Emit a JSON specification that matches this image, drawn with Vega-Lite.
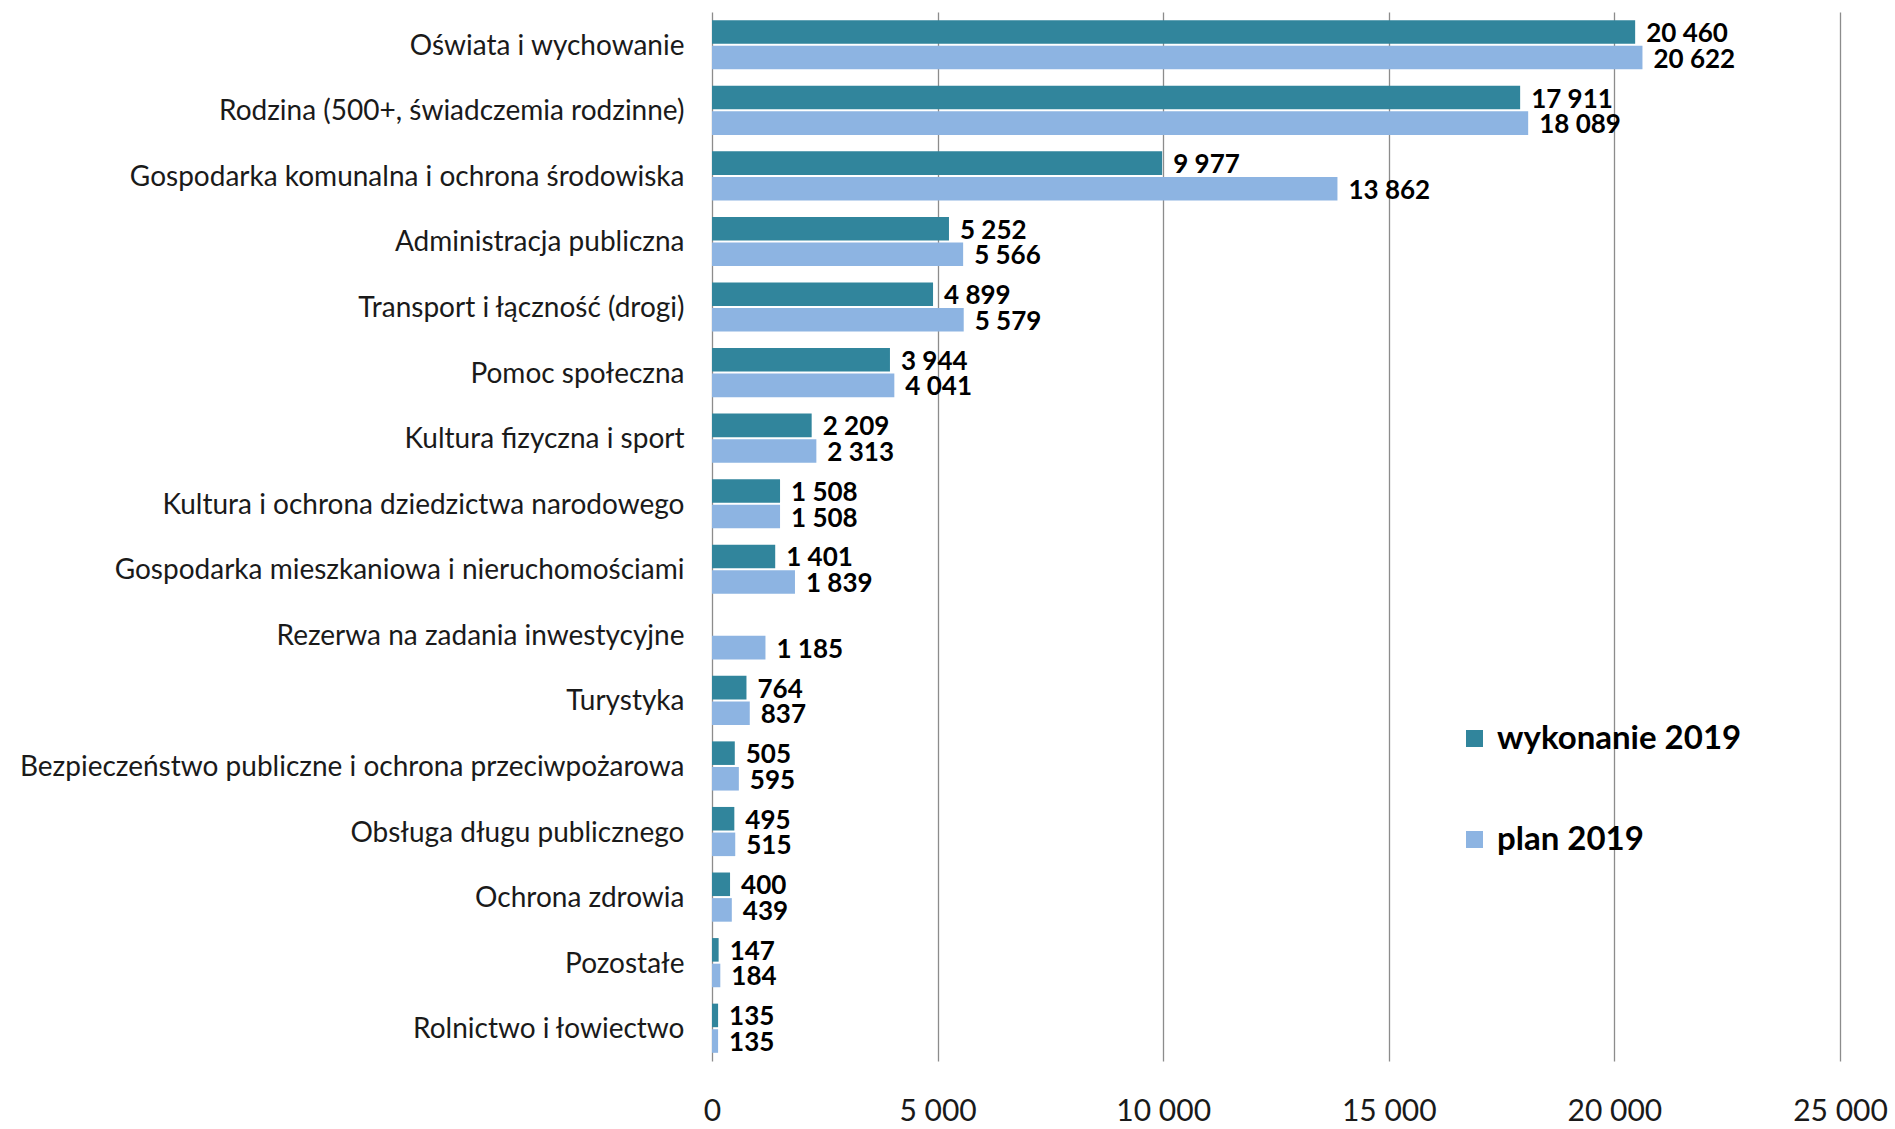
{
  "$schema": "https://vega.github.io/schema/vega-lite/v6.json",
  "width": 1128,
  "height": 1049,
  "autosize": {"type": "none"},
  "padding": {"left": 712, "top": 12, "right": 55, "bottom": 68},
  "background": "white",
  "config": {
    "view": {"stroke": null},
    "locale": {"number": {"decimal": ",", "thousands": " ", "grouping": [3], "currency": ["", " zł"]}},
    "font": "Lato"
  },
  "data": {
    "values": [
      {"kategoria": "Oświata i wychowanie", "seria": "wykonanie 2019", "wartosc": 20460},
      {"kategoria": "Oświata i wychowanie", "seria": "plan 2019", "wartosc": 20622},
      {"kategoria": "Rodzina (500+, świadczemia rodzinne)", "seria": "wykonanie 2019", "wartosc": 17911},
      {"kategoria": "Rodzina (500+, świadczemia rodzinne)", "seria": "plan 2019", "wartosc": 18089},
      {"kategoria": "Gospodarka komunalna i ochrona środowiska ", "seria": "wykonanie 2019", "wartosc": 9977},
      {"kategoria": "Gospodarka komunalna i ochrona środowiska ", "seria": "plan 2019", "wartosc": 13862},
      {"kategoria": "Administracja publiczna", "seria": "wykonanie 2019", "wartosc": 5252},
      {"kategoria": "Administracja publiczna", "seria": "plan 2019", "wartosc": 5566},
      {"kategoria": "Transport i łączność (drogi)", "seria": "wykonanie 2019", "wartosc": 4899},
      {"kategoria": "Transport i łączność (drogi)", "seria": "plan 2019", "wartosc": 5579},
      {"kategoria": "Pomoc społeczna", "seria": "wykonanie 2019", "wartosc": 3944},
      {"kategoria": "Pomoc społeczna", "seria": "plan 2019", "wartosc": 4041},
      {"kategoria": "Kultura fizyczna i sport", "seria": "wykonanie 2019", "wartosc": 2209},
      {"kategoria": "Kultura fizyczna i sport", "seria": "plan 2019", "wartosc": 2313},
      {"kategoria": "Kultura i ochrona dziedzictwa narodowego", "seria": "wykonanie 2019", "wartosc": 1508},
      {"kategoria": "Kultura i ochrona dziedzictwa narodowego", "seria": "plan 2019", "wartosc": 1508},
      {"kategoria": "Gospodarka mieszkaniowa i nieruchomościami", "seria": "wykonanie 2019", "wartosc": 1401},
      {"kategoria": "Gospodarka mieszkaniowa i nieruchomościami", "seria": "plan 2019", "wartosc": 1839},
      {"kategoria": "Rezerwa na zadania inwestycyjne", "seria": "plan 2019", "wartosc": 1185},
      {"kategoria": "Turystyka", "seria": "wykonanie 2019", "wartosc": 764},
      {"kategoria": "Turystyka", "seria": "plan 2019", "wartosc": 837},
      {"kategoria": "Bezpieczeństwo publiczne i ochrona przeciwpożarowa", "seria": "wykonanie 2019", "wartosc": 505},
      {"kategoria": "Bezpieczeństwo publiczne i ochrona przeciwpożarowa", "seria": "plan 2019", "wartosc": 595},
      {"kategoria": "Obsługa długu publicznego", "seria": "wykonanie 2019", "wartosc": 495},
      {"kategoria": "Obsługa długu publicznego", "seria": "plan 2019", "wartosc": 515},
      {"kategoria": "Ochrona zdrowia", "seria": "wykonanie 2019", "wartosc": 400},
      {"kategoria": "Ochrona zdrowia", "seria": "plan 2019", "wartosc": 439},
      {"kategoria": "Pozostałe", "seria": "wykonanie 2019", "wartosc": 147},
      {"kategoria": "Pozostałe", "seria": "plan 2019", "wartosc": 184},
      {"kategoria": "Rolnictwo i łowiectwo", "seria": "wykonanie 2019", "wartosc": 135},
      {"kategoria": "Rolnictwo i łowiectwo", "seria": "plan 2019", "wartosc": 135}
    ]
  },
  "encoding": {
    "y": {
      "field": "kategoria", "type": "nominal", "sort": null, "title": null,
      "scale": {"paddingInner": 0.25, "paddingOuter": 0.125},
      "axis": {"domain": false, "ticks": false, "labelFontSize": 28, "labelColor": "#1a1a1a", "labelPadding": 28, "labelLimit": 900, "labelOffset": 2}
    },
    "yOffset": {
      "field": "seria", "type": "nominal", "sort": ["wykonanie 2019", "plan 2019"],
      "scale": {"paddingInner": 0.08}
    },
    "x": {
      "field": "wartosc", "type": "quantitative", "title": null,
      "scale": {"domain": [0, 25000], "nice": false},
      "axis": {
        "values": [0, 5000, 10000, 15000, 20000, 25000], "format": ",d",
        "grid": true, "gridColor": "#8c8c8c", "gridWidth": 1.3,
        "domain": false, "ticks": false, "labelFlush": false, "labelOverlap": false,
        "labelFontSize": 30, "labelColor": "#1a1a1a", "labelPadding": 35
      }
    }
  },
  "layer": [
    {
      "mark": {"type": "bar"},
      "encoding": {
        "color": {
          "field": "seria", "type": "nominal", "title": null,
          "sort": ["wykonanie 2019", "plan 2019"],
          "scale": {"domain": ["wykonanie 2019", "plan 2019"], "range": ["#31859C", "#8DB4E2"]},
          "legend": {
            "orient": "none", "legendX": 746, "legendY": 710,
            "symbolType": "square", "symbolSize": 289, "symbolStrokeWidth": 0,
            "labelFontSize": 33, "labelFontWeight": "bold", "labelColor": "#000000",
            "labelLimit": 600, "rowPadding": 67, "labelOffset": 6
          }
        }
      }
    },
    {
      "mark": {"type": "text", "align": "left", "baseline": "middle", "dx": 11, "dy": 2, "fontSize": 26, "fontWeight": "bold", "color": "#000000"},
      "encoding": {
        "text": {"field": "wartosc", "type": "quantitative", "format": ",d"}
      }
    }
  ]
}
